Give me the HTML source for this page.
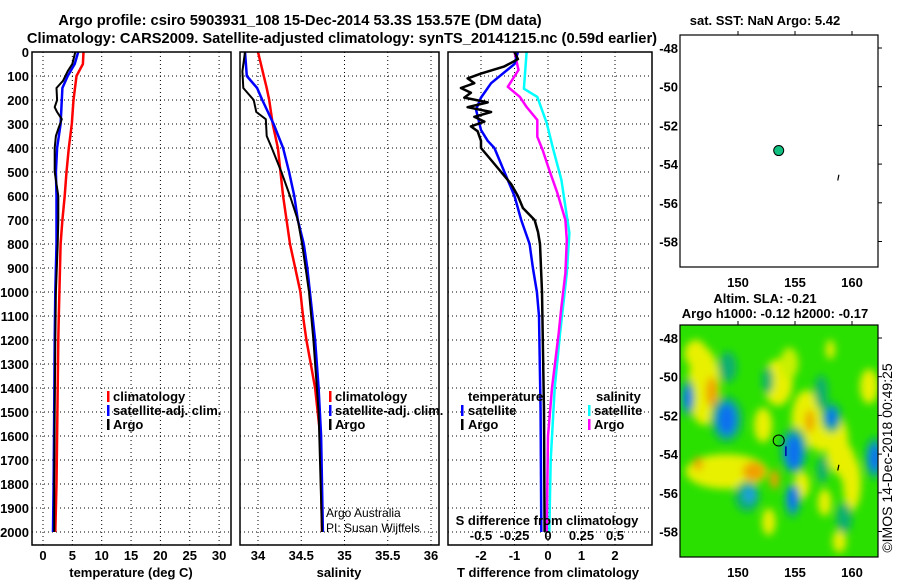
<!DOCTYPE html>
<html><head><meta charset="utf-8"><style>
html,body{margin:0;padding:0;background:#fff;}
svg{display:block;font-family:"Liberation Sans",Arial,sans-serif;}
.b{font-weight:bold;font-size:13px;}
.t{font-weight:bold;font-size:14.7px;}
</style></head><body>
<svg id="fig" width="900" height="580" viewBox="0 0 900 580" xmlns="http://www.w3.org/2000/svg">
<defs>
<clipPath id="c1"><rect x="32" y="52" width="199" height="493"/></clipPath>
<clipPath id="c2"><rect x="240" y="52" width="199" height="493"/></clipPath>
<clipPath id="c3"><rect x="448" y="52" width="204" height="493"/></clipPath>
<clipPath id="cm"><rect x="680" y="325" width="198" height="232"/></clipPath>
<filter id="blur" x="-50%" y="-50%" width="200%" height="200%"><feGaussianBlur stdDeviation="4"/></filter>
</defs>
<text class="t" x="300" y="25" text-anchor="middle">Argo profile: csiro 5903931_108 15-Dec-2014 53.3S 153.57E (DM data)</text>
<text class="t" x="342" y="43" text-anchor="middle">Climatology: CARS2009. Satellite-adjusted climatology: synTS_20141215.nc (0.59d earlier)</text>
<g id="grid"></g>
<g id="lines"></g>
<g id="heat" clip-path="url(#cm)"></g>
<g id="frames"></g>
<g id="labels"></g>
</svg>
<script>
// ---------- data ----------
const depthTicks=[0,100,200,300,400,500,600,700,800,900,1000,1100,1200,1300,1400,1500,1600,1700,1800,1900,2000];
const tTicks=[0,5,10,15,20,25,30];
const sTicks=[34,34.5,35,35.5,36];
const dTTicks=[-2,-1,0,1,2];
const dSTicks=[-0.5,-0.25,0,0.25,0.5];
const latTicks=[-48,-50,-52,-54,-56,-58];
const lonTicks=[150,155,160];

const tClimDepth=[0,50,100,200,300,400,500,600,700,800,900,1000,1100,1200,1400,1600,1800,2000];
const tClim=[6.9,6.8,5.7,5.2,4.9,4.4,4.0,3.7,3.3,3.0,2.9,2.8,2.7,2.6,2.5,2.4,2.3,2.1];
const tSatDepth=[0,50,100,150,200,300,400,500,600,700,800,1000,1200,1500,1800,2000];
const tSat=[6.0,5.4,4.2,3.3,3.2,3.0,2.4,2.2,2.3,2.3,2.3,2.1,2.0,1.9,1.8,1.7];
const tArgoDepth=[0,50,80,120,150,200,230,250,280,320,350,400,500,550,600,700,800,1000,1200,1500,1800,2000];
const tArgo=[5.5,5.0,4.2,3.4,2.3,2.4,2.0,2.4,3.2,2.6,2.2,2.0,2.0,2.3,2.6,2.6,2.5,2.2,2.1,2.0,1.9,1.9];

const sClimDepth=[0,90,150,200,300,400,600,800,1000,1100,1200,1300,1400,1500,1600,1800,2000];
const sClim=[34.0,34.06,34.1,34.13,34.17,34.23,34.29,34.37,34.49,34.52,34.56,34.61,34.66,34.69,34.72,34.73,34.74];
const sSatDepth=[0,100,150,200,300,400,500,600,700,800,900,1000,1200,1400,1600,2000];
const sSat=[33.85,33.87,33.99,34.05,34.18,34.29,34.36,34.42,34.46,34.53,34.57,34.6,34.66,34.7,34.73,34.75];
const sArgoDepth=[0,80,150,200,250,280,350,400,500,600,700,800,900,1000,1200,1500,2000];
const sArgo=[33.85,33.82,33.83,33.95,33.98,34.09,34.1,34.16,34.27,34.37,34.46,34.51,34.55,34.59,34.64,34.7,34.74];

const dTSatDepth=[0,50,130,190,240,325,370,400,500,600,700,800,900,1000,1100,1500,2000];
const dTSat=[-0.9,-1.0,-1.7,-2.0,-2.15,-2.0,-1.8,-1.6,-1.3,-1.0,-0.8,-0.55,-0.45,-0.33,-0.27,-0.22,-0.2];
const dTArgoDepth=[0,30,60,90,110,130,150,170,190,210,230,250,270,290,310,330,370,400,450,500,550,600,650,700,750,800,1000,1500,2000];
const dTArgo=[-1.0,-0.9,-1.3,-2.0,-2.4,-2.2,-2.6,-2.3,-2.5,-1.8,-2.4,-1.7,-2.2,-1.9,-2.3,-2.1,-2.0,-2.0,-1.7,-1.4,-1.1,-0.9,-0.75,-0.4,-0.3,-0.24,-0.18,-0.12,-0.1];
const dSArgoDepth=[0,75,145,187,229,283,353,408,492,588,700,783,921,1062,1171,1400,1600,2000];
const dSArgo=[-0.25,-0.22,-0.3,-0.21,-0.16,-0.08,-0.08,-0.04,0.01,0.07,0.13,0.14,0.13,0.1,0.08,0.03,0.0,-0.01];
const dSSatDepth=[0,153,187,296,408,533,645,754,921,1171,1400,1700,2000];
const dSSat=[-0.16,-0.18,-0.08,-0.01,0.04,0.1,0.13,0.16,0.14,0.09,0.05,0.02,0.01];

const blobLon=[147.0,146.3,153.5,156.0,158.7,160.0,149.0,155.6,157.6,158.9,152.7,158.1,152.2,161.5,154.5,157.2,159.5, 147.7,151.4,153.2,156.3,146.5, 149.1,149.0,152.6,157.3,158.2,154.9,162.0,150.8,154.8,159.3,157.4,145.6, 145.6,149.0,158.2,154.9,162.0,151.0,154.8];
const blobLat=[-50.5,-48.8,-50.3,-52.2,-53.5,-55.5,-54.9,-55.6,-56.5,-58.5,-57.5,-48.6,-52.5,-50.5,-49.3,-53.0,-54.5, -50.8,-54.9,-55.3,-52.3,-54.5, -49.5,-52.2,-50.2,-50.8,-52.1,-53.8,-54.2,-56.2,-56.4,-57.3,-54.8,-51.1, -51.1,-52.2,-52.1,-53.9,-54.2,-56.1,-56.3];
const blobRx=[1.4,1.0,1.3,1.3,1.0,0.8,3.6,0.7,0.6,0.6,0.6,0.4,0.8,0.8,0.8,0.8,0.8, 0.5,1.0,0.4,0.4,0.4, 0.8,1.4,0.5,0.6,0.9,1.2,0.9,1.1,0.7,0.7,0.5,0.6, 0.35,0.8,0.45,0.7,0.5,0.5,0.45];
const blobRy=[2.0,0.7,1.2,1.5,1.5,1.4,0.9,0.7,0.7,0.6,0.7,0.5,0.9,0.9,0.8,0.9,1.0, 0.8,0.5,0.5,0.6,0.35, 0.8,1.2,0.7,0.9,0.8,1.2,1.1,0.8,0.9,0.8,0.7,1.0, 0.6,0.8,0.45,0.9,0.7,0.4,0.6];
const blobColor=['#e8f000','#e8f000','#e8f000','#e8f000','#e8f000','#e8f000','#e8f000','#e8f000','#e8f000','#e8f000','#e8f000','#e8f000','#e8f000','#e8f000','#c8f000','#e8f000','#e8f000',
 '#f0a000','#f0a000','#f0a000','#f0a000','#f0a000',
 '#10b070','#10b070','#10b070','#10b070','#10b070','#10b070','#10b070','#10b070','#10b070','#10b070','#10b070','#10b070',
 '#1070f0','#1070f0','#1070f0','#1070f0','#1070f0','#20a0e0','#1070f0'];

// ---------- scales ----------
const yD=d=>52+d*0.24;
const xT=t=>43+t*5.87;
const xS=s=>258+(s-34)*86.5;
const xDT=t=>548+t*33.5;
const xDS=s=>548+s*134;
const xLon=l=>738+(l-150)*11.4;
const yLatTop=l=>48+(-48-l)*19.35;
const yLatBot=l=>338+(-48-l)*19.35;

const NS='http://www.w3.org/2000/svg';
function mk(tag,attrs,parent){const e=document.createElementNS(NS,tag);for(const k in attrs)e.setAttribute(k,attrs[k]);parent.appendChild(e);return e;}
const G=document.getElementById('grid'),L=document.getElementById('lines'),F=document.getElementById('frames'),T=document.getElementById('labels'),H=document.getElementById('heat');

const panels=[[32,231,tTicks,xT],[240,439,sTicks,xS],[448,652,dTTicks,xDT]];
panels.forEach(p=>{
  depthTicks.forEach(d=>{const l=mk('line',{x1:p[0],x2:p[1],y1:yD(d),y2:yD(d),stroke:'#000','stroke-width':1,'stroke-dasharray':'1,3'},G);
    
    });
  p[2].forEach(v=>{const l=mk('line',{x1:p[3](v),x2:p[3](v),y1:52,y2:545,stroke:'#000','stroke-width':1,'stroke-dasharray':'1,3'},G);
    
    });
});

function series(depths,vals,xf,color,clip,name,w){
  const pts=depths.map((d,i)=>xf(vals[i]).toFixed(1)+','+yD(d).toFixed(1)).join(' ');
  const e=mk('polyline',{points:pts,fill:'none',stroke:color,'stroke-width':w||2.5,'clip-path':'url(#'+clip+')','stroke-linejoin':'round'},L);
  
  
}
series(tClimDepth,tClim,xT,'#ff0000','c1','temperature-climatology-line');
series(tSatDepth,tSat,xT,'#0000ff','c1','temperature-satellite-line');
series(tArgoDepth,tArgo,xT,'#000','c1','temperature-argo-line',2);
series(sClimDepth,sClim,xS,'#ff0000','c2','salinity-climatology-line');
series(sSatDepth,sSat,xS,'#0000ff','c2','salinity-satellite-line');
series(sArgoDepth,sArgo,xS,'#000','c2','salinity-argo-line',2);
series(dSSatDepth,dSSat,xDS,'#00ffff','c3','s-diff-satellite-line');
series(dSArgoDepth,dSArgo,xDS,'#ff00ff','c3','s-diff-argo-line');
series(dTSatDepth,dTSat,xDT,'#0000ff','c3','t-diff-satellite-line');
series(dTArgoDepth,dTArgo,xDT,'#000','c3','t-diff-argo-line',2.5);

[[32,231,'temperature-panel'],[240,439,'salinity-panel'],[448,652,'difference-panel']].forEach(p=>{
  const r=mk('rect',{x:p[0],y:52,width:p[1]-p[0],height:493,fill:'none',stroke:'#000','stroke-width':1.5},F);
  
  
});

function txt(x,y,s,cls,anchor,name,extra){
  const e=mk('text',Object.assign({x:x,y:y,'text-anchor':anchor||'start'},extra||{}),T);
  if(cls)e.setAttribute('class',cls);
  e.textContent=s;
  
  
  return e;
}
depthTicks.forEach(d=>txt(29,yD(d)+5,String(d),'b','end','depth-tick-label'));
tTicks.forEach(v=>txt(xT(v),560,String(v),'b','middle','temperature-tick-label'));
sTicks.forEach(v=>txt(xS(v),560,String(v),'b','middle','salinity-tick-label'));
dTTicks.forEach(v=>txt(xDT(v),560,String(v),'b','middle','t-diff-tick-label'));
dSTicks.forEach(v=>txt(xDS(v),540,String(v),'b','middle','s-diff-tick-label'));
txt(131,577,'temperature (deg C)','b','middle','temperature-axis-title');
txt(339,577,'salinity','b','middle','salinity-axis-title');
txt(548,577,'T difference from climatology','b','middle','t-diff-axis-title');
txt(547,525,'S difference from climatology','b','middle','s-diff-axis-title');
txt(326,517,'Argo Australia','','start','credit-argo-australia',{'font-size':'12'});
txt(326,532,'PI: Susan Wijffels','','start','credit-pi',{'font-size':'12'});

function legend(xb,xt,y,color,label,name){
  if(color){const r=mk('rect',{x:xb,y:y-8,width:2.5,height:11,fill:color},T);
    
    }
  txt(xt,y+2,label,'b','start',name);
}
legend(107,113,399,'#ff0000','climatology','legend-climatology');
legend(107,113,413,'#0000ff','satellite-adj. clim.','legend-satellite');
legend(107,113,427,'#000','Argo','legend-argo');
legend(329,335,399,'#ff0000','climatology','legend2-climatology');
legend(329,335,413,'#0000ff','satellite-adj. clim.','legend2-satellite');
legend(329,335,427,'#000','Argo','legend2-argo');
legend(0,468,399,null,'temperature','legend-temperature-heading');
legend(461,468,413,'#0000ff','satellite','legend-t-satellite');
legend(461,468,427,'#000','Argo','legend-t-argo');
legend(0,596,399,null,'salinity','legend-salinity-heading');
legend(588,594,413,'#00ffff','satellite','legend-s-satellite');
legend(588,594,427,'#ff00ff','Argo','legend-s-argo');

// maps
const hb=mk('rect',{x:680,y:325,width:198,height:232,fill:'#2ae000'},H);


const hg=mk('g',{filter:'url(#blur)'},H);
blobLon.forEach((lo,i)=>{
  const e=mk('ellipse',{cx:xLon(lo),cy:yLatBot(blobLat[i]),rx:blobRx[i]*11.4,ry:blobRy[i]*19.35,fill:blobColor[i]},hg);
  
  
});
[[35,267,yLatTop,'sst-map'],[325,557,yLatBot,'sla-map']].forEach(m=>{
  const r=mk('rect',{x:680,y:m[0],width:198,height:m[1]-m[0],fill:'none',stroke:'#000','stroke-width':1.2},F);
  
  
  latTicks.forEach(l=>{
    const t=mk('line',{x1:878,x2:882,y1:m[2](l),y2:m[2](l),stroke:'#000'},F);
    
    
    txt(678,m[2](l)+5,String(l),'b','end','lat-tick-label');
  });
  lonTicks.forEach(l=>{
    const t=mk('line',{x1:xLon(l),x2:xLon(l),y1:m[0]-4,y2:m[0],stroke:'#000'},F);
    
    
    txt(xLon(l),m[1]+20,String(l),'b','middle','lon-tick-label');
  });
});
const dot=mk('circle',{cx:xLon(153.57),cy:yLatTop(-53.3),r:5,fill:'#10c080',stroke:'#000','stroke-width':1},F);


const cir=mk('circle',{cx:xLon(153.57),cy:yLatBot(-53.3),r:5.5,fill:'none',stroke:'#000','stroke-width':1},F);


[yLatTop,yLatBot].forEach(f=>{
  const e=mk('line',{x1:xLon(158.85),y1:f(-54.55),x2:xLon(158.75),y2:f(-54.85),stroke:'#000','stroke-width':1.2},F);
  
  
});
const bt=mk('line',{x1:xLon(154.2),y1:yLatBot(-53.6),x2:xLon(154.2),y2:yLatBot(-54.1),stroke:'#0000aa','stroke-width':1.5},F);


txt(765,25,'sat. SST: NaN Argo: 5.42','b','middle','sst-map-title');
txt(765,303,'Altim. SLA: -0.21','b','middle','sla-map-title');
txt(775,318,'Argo h1000: -0.12 h2000: -0.17','b','middle','sla-map-subtitle');
txt(0,0,'\u00a9IMOS 14-Dec-2018 00:49:25','','middle','copyright-note',{'font-size':'14',transform:'translate(892,458) rotate(-90)'});
</script>
</body></html>
